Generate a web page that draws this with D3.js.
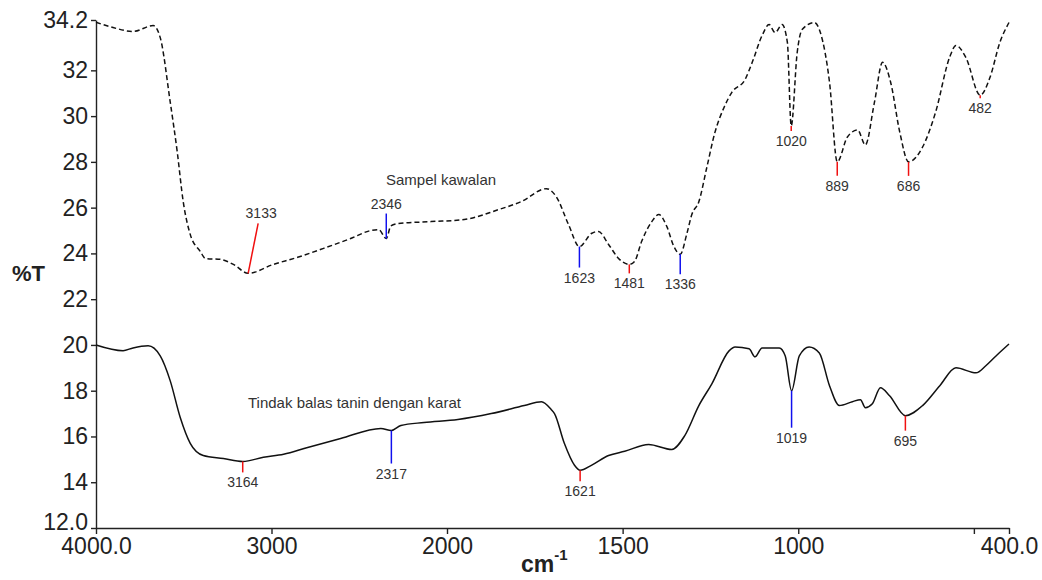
<!DOCTYPE html>
<html>
<head>
<meta charset="utf-8">
<script src="https://cdnjs.cloudflare.com/ajax/libs/d3/7.8.5/d3.min.js"></script>
<style>
  body { margin: 0; background: #fff; }
  text { font-family: "Liberation Sans", Arial, sans-serif; }
</style>
</head>
<body>
<div id="chart-area"></div>
<script>
// control sample (dashed)
var sampleWave = [4000, 3903, 3789, 3674, 3634, 3577, 3537, 3503, 3463, 3406, 3377, 3291, 3217, 3133, 2989, 2851, 2703, 2549, 2434, 2389, 2346, 2320, 2280, 2091, 1951, 1854, 1789, 1717, 1689, 1654, 1623, 1589, 1569, 1540, 1509, 1481, 1466, 1446, 1417, 1397, 1374, 1354, 1336, 1317, 1303, 1283, 1260, 1237, 1211, 1189, 1151, 1131, 1103, 1083, 1066, 1046, 1031, 1020, 1003, 989, 954, 937, 911, 889, 860, 831, 809, 783, 760, 737, 711, 686, 646, 609, 569, 551, 523, 482, 454, 426, 400];
var sampleT = [34.1, 33.87, 33.7, 33.96, 33.43, 30.61, 28.43, 26.26, 24.83, 24.09, 23.78, 23.74, 23.52, 23.13, 23.52, 23.83, 24.22, 24.65, 25.0, 25.04, 24.65, 25.2, 25.3, 25.39, 25.48, 25.91, 26.26, 26.83, 26.48, 25.26, 24.3, 24.87, 24.96, 24.39, 23.74, 23.52, 23.65, 24.52, 25.39, 25.7, 25.17, 24.3, 23.96, 24.87, 25.7, 26.26, 27.78, 29.3, 30.39, 31.04, 31.61, 32.35, 33.52, 34.0, 33.65, 34.0, 33.22, 29.57, 32.78, 33.78, 34.09, 33.65, 31.48, 28.0, 29.09, 29.39, 28.74, 30.61, 32.35, 31.48, 29.3, 28.0, 28.65, 30.17, 32.57, 33.09, 32.57, 30.91, 31.7, 33.22, 34.09];

// tannin + rust reaction (solid)
var tanninWave = [4000, 3846, 3789, 3703, 3634, 3577, 3520, 3463, 3389, 3274, 3164, 3046, 2931, 2794, 2606, 2377, 2317, 2263, 2131, 1969, 1874, 1780, 1731, 1703, 1694, 1666, 1637, 1621, 1589, 1540, 1494, 1426, 1360, 1323, 1283, 1246, 1197, 1180, 1140, 1123, 1103, 1054, 1037, 1019, 997, 969, 940, 911, 883, 846, 823, 809, 789, 766, 740, 695, 646, 597, 551, 494, 466, 437, 400];
var tanninT = [20.0, 19.75, 19.87, 19.96, 19.52, 18.43, 16.83, 15.7, 15.17, 15.04, 14.91, 15.09, 15.22, 15.52, 15.91, 16.35, 16.26, 16.48, 16.61, 16.74, 17.0, 17.35, 17.52, 17.17, 17.0, 15.7, 14.74, 14.52, 14.74, 15.17, 15.35, 15.65, 15.43, 16.04, 17.35, 18.3, 19.74, 19.91, 19.83, 19.48, 19.87, 19.87, 19.52, 18.0, 19.52, 19.91, 19.65, 18.22, 17.35, 17.52, 17.61, 17.26, 17.43, 18.13, 17.78, 16.91, 17.35, 18.22, 19.0, 18.78, 19.09, 19.52, 20.04];

var samplePeaks = [3133, 2346, 1623, 1481, 1336, 1020, 889, 686, 482];
var samplePeakColors = ["red", "blue", "blue", "red", "blue", "red", "red", "red", "red"];
var tanninPeaks = [3164, 2317, 1621, 1019, 695];
var tanninPeakColors = ["red", "blue", "red", "blue", "red"];

var xTicks = [4000, 3000, 2000, 1500, 1000, 500, 400];
var xTickLabels = ["4000.0", "3000", "2000", "1500", "1000", "", "400.0"];
var yTicks = [12, 14, 16, 18, 20, 22, 24, 26, 28, 30, 32, 34.2];
var yTickLabels = ["12.0", "14", "16", "18", "20", "22", "24", "26", "28", "30", "32", "34.2"];

var width = 1042, height = 580;

var svg = d3.select("#chart-area")
  .append("svg")
  .attr("width", width)
  .attr("height", height);

svg.append("rect").attr("width", width).attr("height", height).attr("fill", "#fff");

// wavenumber axis is compressed above 2000 cm-1
var x = d3.scaleLinear().domain([4000, 2000, 400]).range([96, 447, 1009]);
var y = d3.scaleLinear().domain([12, 34.2]).range([528, 20]);

var leftAxis = d3.axisLeft(y)
  .tickValues(yTicks)
  .tickFormat((d, i) => yTickLabels[i])
  .tickSize(5).tickSizeOuter(0).tickPadding(3);

var bottomAxis = d3.axisBottom(x)
  .tickValues(xTicks)
  .tickFormat((d, i) => xTickLabels[i])
  .tickSize(6).tickSizeOuter(0).tickPadding(4);

var yAxisGroup = svg.append("g")
  .attr("transform", "translate(96, 0)")
  .call(leftAxis);

var xAxisGroup = svg.append("g")
  .attr("transform", "translate(0, 528)")
  .call(bottomAxis);

[yAxisGroup, xAxisGroup].forEach((g) => {
  g.selectAll("path, line").attr("stroke", "#222").attr("stroke-width", 1.4);
  g.selectAll("text")
    .attr("font-size", "23px")
    .attr("font-family", "Liberation Sans, Arial, sans-serif")
    .attr("fill", "#222");
});
// nudge the corner label up so it clears 4000.0
yAxisGroup.selectAll(".tick text").filter((d) => d == 12).attr("dy", "0.05em");

// axis titles
svg.append("text")
  .attr("x", 12).attr("y", 281)
  .attr("font-size", "22px").attr("font-weight", "bold").attr("fill", "#222")
  .text("%T");

var xTitle = svg.append("text")
  .attr("x", 521).attr("y", 572)
  .attr("font-size", "23px").attr("font-weight", "bold").attr("fill", "#222");
xTitle.append("tspan").text("cm");
xTitle.append("tspan").attr("font-size", "15px").attr("dy", -12).text("-1");

// curves
function series(ws, vs) {
  return ws.map((w, i) => ({ w: w, t: vs[i] }));
}

var line = d3.line()
  .x((d) => x(d.w))
  .y((d) => y(d.t))
  .curve(d3.curveMonotoneX);

svg.append("path")
  .datum(series(sampleWave, sampleT))
  .attr("d", line)
  .attr("fill", "none")
  .attr("stroke", "#111")
  .attr("stroke-width", 1.5)
  .attr("stroke-dasharray", "5,3");

svg.append("path")
  .datum(series(tanninWave, tanninT))
  .attr("d", line)
  .attr("fill", "none")
  .attr("stroke", "#111")
  .attr("stroke-width", 1.5);

// series names
svg.append("text")
  .attr("x", 386).attr("y", 185)
  .attr("font-size", "15px").attr("fill", "#333")
  .text("Sampel kawalan");

svg.append("text")
  .attr("x", 248).attr("y", 408)
  .attr("font-size", "15px").attr("fill", "#333")
  .text("Tindak balas tanin dengan karat");

// peak markers
function valueAt(ws, vs, w) {
  for (var i = 0; i < ws.length - 1; i++) {
    if (w <= ws[i] && w >= ws[i + 1]) {
      var f = (ws[i] - w) / (ws[i] - ws[i + 1]);
      return vs[i] + f * (vs[i + 1] - vs[i]);
    }
  }
  return vs[vs.length - 1];
}

// leader offsets in px (negative dy = label above the curve)
var sampleLeaders = [{ dx: 10, dy: -50 }, { dx: 0, dy: -25 }, { dx: 0, dy: 21 }, { dx: 0, dy: 9 }, { dx: 0, dy: 20 },
  { dx: 0, dy: 5 }, { dx: 0, dy: 14 }, { dx: 0, dy: 14 }, { dx: 0, dy: 3 }];
var tanninLeaders = [{ dx: 0, dy: 11 }, { dx: 0, dy: 33 }, { dx: 0, dy: 11 }, { dx: 0, dy: 37 }, { dx: 0, dy: 15 }];

function drawPeaks(peaks, colors, leaders, ws, vs) {
  peaks.forEach((p, i) => {
    var px = x(p), py = y(valueAt(ws, vs, p));
    var L = leaders[i];
    svg.append("line")
      .attr("x1", px).attr("y1", py)
      .attr("x2", px + L.dx).attr("y2", py + L.dy)
      .attr("stroke", colors[i] == "red" ? "#f01010" : "#1010ee")
      .attr("stroke-width", 1.5);
    svg.append("text")
      .attr("x", px + L.dx + (L.dx ? 3 : 0))
      .attr("y", L.dy < 0 ? py + L.dy - 5 : py + L.dy + 15)
      .attr("text-anchor", "middle")
      .attr("font-size", "14px")
      .attr("fill", "#333")
      .text(p);
  });
}

drawPeaks(samplePeaks, samplePeakColors, sampleLeaders, sampleWave, sampleT);
drawPeaks(tanninPeaks, tanninPeakColors, tanninLeaders, tanninWave, tanninT);
</script>
</body>
</html>
